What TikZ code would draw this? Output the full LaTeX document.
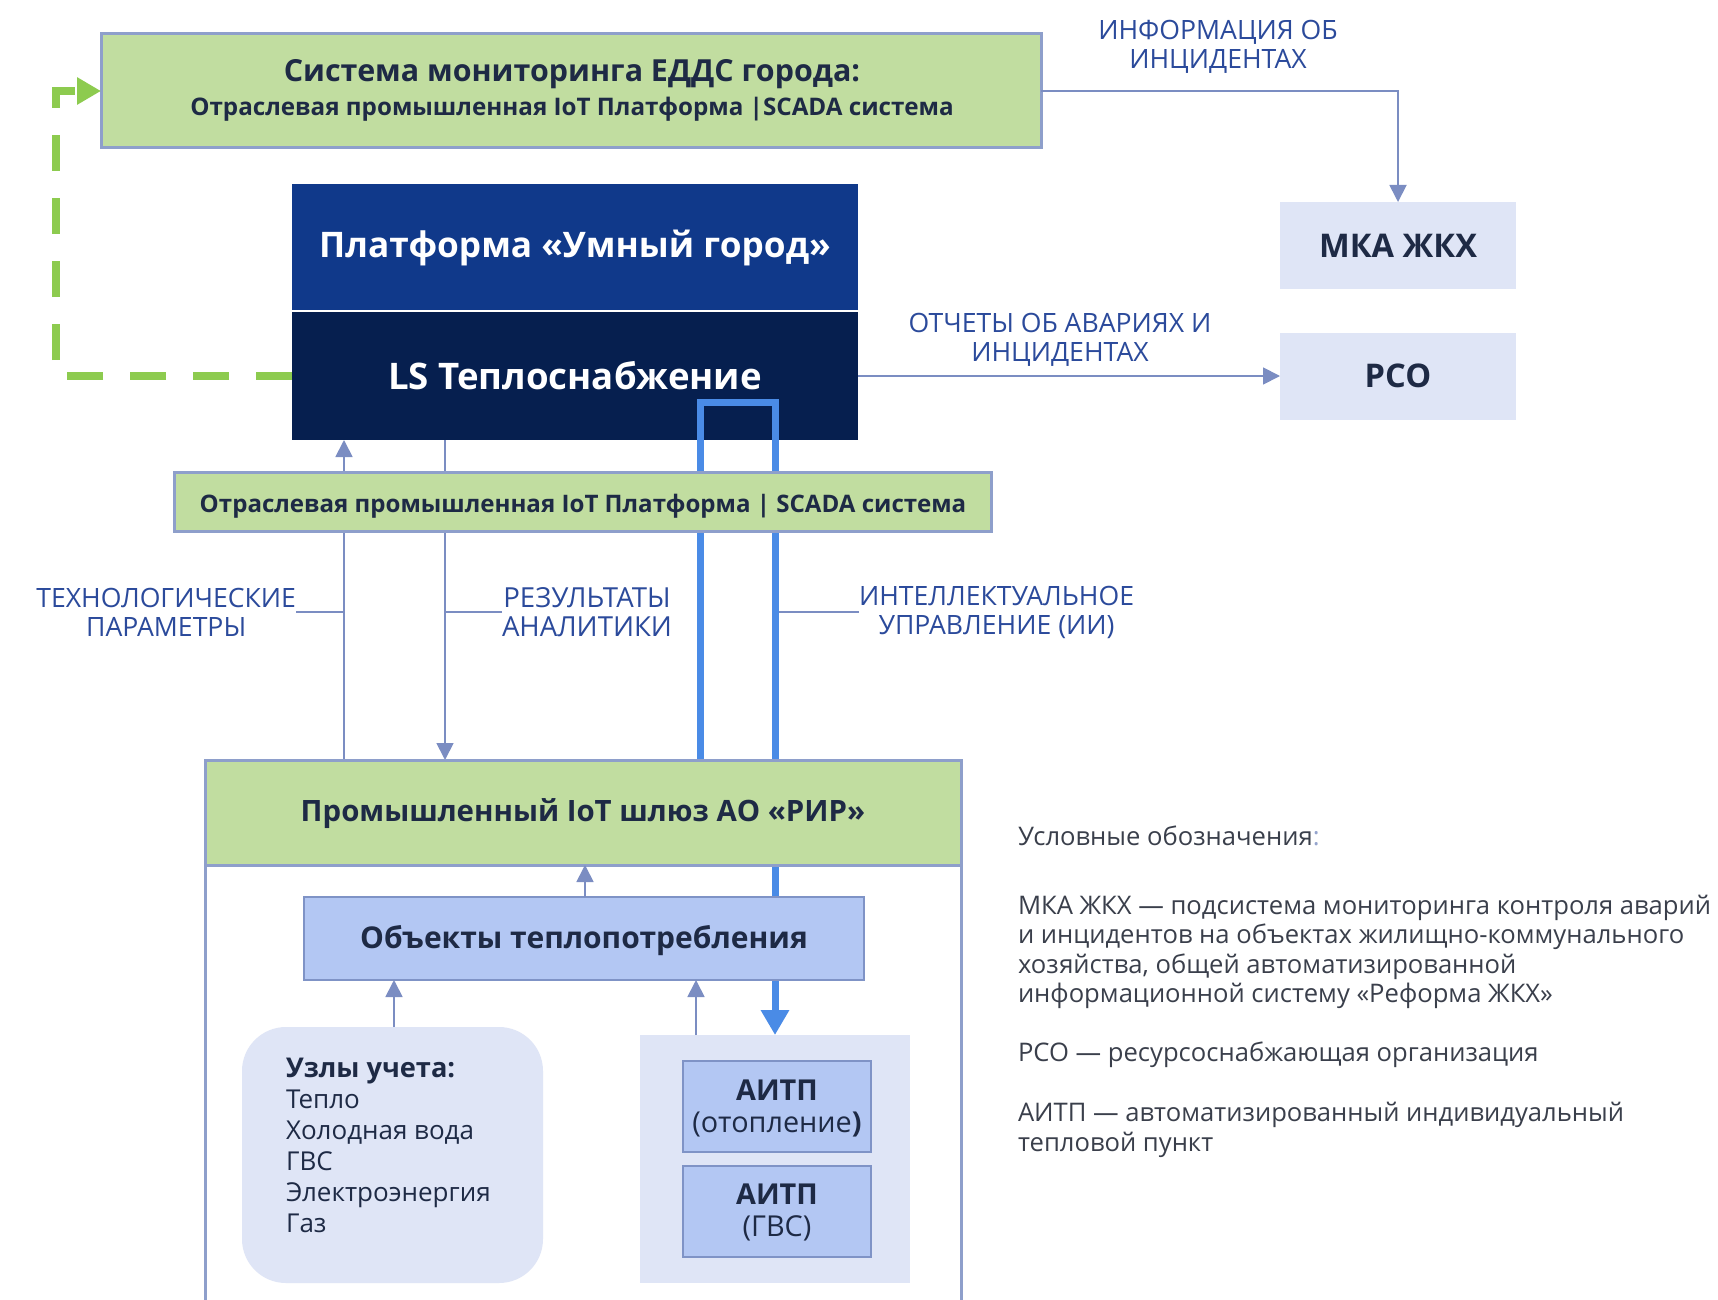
\documentclass[tikz,border=0pt]{standalone}
\usepackage{fontspec}
\setmainfont{Open Sans}
\usetikzlibrary{arrows.meta}
\definecolor{gfill}{HTML}{C1DDA0}
\definecolor{gdraw}{HTML}{8E9FCB}
\definecolor{txt}{HTML}{1E2A45}
\definecolor{lbl}{HTML}{2B4A9B}
\definecolor{thinc}{HTML}{7B8DC2}
\definecolor{bthick}{HTML}{4A8BE6}
\definecolor{platc}{HTML}{10398A}
\definecolor{lsc}{HTML}{061F4F}
\definecolor{lav}{HTML}{DFE5F6}
\definecolor{lblue}{HTML}{B3C7F3}
\definecolor{bdraw}{HTML}{7F93C6}
\definecolor{gdash}{HTML}{8DCB4F}
\definecolor{legt}{HTML}{3A3F4B}
\newcommand{\fs}[2]{\fontsize{#1}{#2}\selectfont}
\begin{document}
\begin{tikzpicture}[x=0.5pt,y=-0.5pt,
  every node/.style={inner sep=0pt, outer sep=0pt},
  gbox/.style={fill=gfill, draw=gdraw, line width=1.5pt},
  lbox/.style={fill=lblue, draw=bdraw, line width=1.2pt},
  lavbox/.style={fill=lav},
  thinarr/.style={draw=thinc, line width=0.9pt, -{Triangle[length=8.5pt,width=8.5pt]}},
  thinln/.style={draw=thinc, line width=0.9pt},
  bluearr/.style={draw=bthick, line width=3.5pt, line join=miter, -{Triangle[length=12.5pt,width=13.5pt]}},
  lbltxt/.style={text=lbl, font=\fs{13.3}{14.5}, align=center},
  btxt/.style={text=txt, font=\bfseries}]
\useasboundingbox (0,0) rectangle (1718,1300);

% outer container
\draw[gdraw, line width=1.5pt, fill=white] (205,760) rectangle (961,1340);

% top boxes
\node[gbox, minimum width=470pt, minimum height=57pt] (top) at (571,91) {};
\node[btxt, font=\bfseries\fs{15.2}{17}] (topt1) at (572,74) {Система мониторинга ЕДДС города:};
\node[btxt, font=\bfseries\fs{12.1}{14}] (topt2) at (572,109) {Отраслевая промышленная IoT Платформа |SCADA система};

\node[fill=platc, minimum width=283pt, minimum height=63pt] (plat) at (575,247) {};
\node[text=white, font=\bfseries\fs{17.6}{20}] at (575,248) {Платформа «Умный город»};
\node[fill=lsc, minimum width=283pt, minimum height=64pt] (ls) at (575,376) {};
\node[text=white, font=\bfseries\fs{18.3}{20}] at (575,376) {LS Теплоснабжение};

\node[lavbox, minimum width=118pt, minimum height=43.5pt] (mka) at (1398,245.5) {};
\node[btxt, font=\bfseries\fs{16.3}{18}] at (1398,246) {МКА ЖКХ};
\node[lavbox, minimum width=118pt, minimum height=43.5pt] (rso) at (1398,376) {};
\node[btxt, font=\bfseries\fs{16.3}{18}] at (1398,376) {РСО};

% connectors top
\draw[gdash, line width=4pt, dash pattern=on 18pt off 13.5pt, -{Triangle[length=12pt,width=13pt]}]
  (ls.west) -- (56,376) -- (56,91) -- (top.west);
\draw[thinarr] (top.east) -| (mka.north);
\node[lbltxt] (infolbl) at (1218,47) {ИНФОРМАЦИЯ ОБ\\ИНЦИДЕНТАХ};
\draw[thinarr] (ls.east) -- (rso.west);
\node[lbltxt] (replbl) at (1060,340) {ОТЧЕТЫ ОБ АВАРИЯХ И\\ИНЦИДЕНТАХ};

% thin vertical arrows
\coordinate (tp) at (344,760);
\coordinate (ra) at (445,440);
\draw[thinarr] (tp) -- (tp |- ls.south);
\draw[thinarr] (ra) -- (ra |- 0,760);

% labels with leaders
\node[lbltxt, anchor=east] (techl) at (296,612) {ТЕХНОЛОГИЧЕСКИЕ\\ПАРАМЕТРЫ};
\draw[thinln] (techl.east) -- (techl.east -| tp);
\node[lbltxt, anchor=west, font=\fs{13.8}{14.5}] (resl) at (502,612) {РЕЗУЛЬТАТЫ\\АНАЛИТИКИ};
\draw[thinln] (resl.west) -- (resl.west -| ra);
\node[lbltxt, anchor=west] (intl) at (859,612) {ИНТЕЛЛЕКТУАЛЬНОЕ\\УПРАВЛЕНИЕ (ИИ)};
\coordinate (b1) at (700,402);
\coordinate (b2) at (775,402);
\draw[thinln] (intl.west) -- (intl.west -| b2);

% lower boxes (behind arrows)
\node[lavbox, rounded corners=22pt, minimum width=150.5pt, minimum height=128pt] (uzly) at (392.5,1155) {};
\node[lavbox, minimum width=135pt, minimum height=124pt] (aitpc) at (775,1159) {};
\node[lbox, minimum width=94pt, minimum height=45.5pt] (a1) at (777,1106.5) {};
\node[lbox, minimum width=94pt, minimum height=45.5pt] (a2) at (777,1211.5) {};
\node[btxt, font=\bfseries\fs{14.4}{16}] at (777,1090) {АИТП};
\node[text=txt, font=\fs{14.4}{16}] at (777,1124) {(отопление\textbf{)}};
\node[btxt, font=\bfseries\fs{14.4}{16}] at (777,1194) {АИТП};
\node[text=txt, font=\fs{14.4}{16}] at (777,1228) {(ГВС)};
\node[text=txt, font=\fs{13}{15.5}, align=left, anchor=north west] at (286,1058)
  {\textbf{\fs{13.6}{15.5}Узлы учета:}\\Тепло\\Холодная вода\\ГВС\\Электроэнергия\\Газ};

% thick blue
\draw[bluearr] (b1 |- 0,760) -- (b1) -- (b2) -- (b2 |- aitpc.north);

% boxes on top
\node[gbox, minimum width=408.5pt, minimum height=29.5pt] (scada) at (582.5,501.5) {};
\node[btxt, font=\bfseries\fs{12.05}{13}] at (583,506) {Отраслевая промышленная IoT Платформа | SCADA система};
\node[gbox, minimum width=378pt, minimum height=52.5pt] (gw) at (583,812.5) {};
\node[btxt, font=\bfseries\fs{14.7}{16}] at (583,814) {Промышленный IoT шлюз АО «РИР»};
\node[lbox, minimum width=280pt, minimum height=41.5pt] (obj) at (584,938.5) {};
\node[btxt, font=\bfseries\fs{15}{16}] at (584,941) {Объекты теплопотребления};

\draw[thinarr] (obj.north -| 585,0) -- (gw.south -| 585,0);
\draw[thinarr] (uzly.north -| 394,0) -- (obj.south -| 394,0);
\draw[thinarr] (aitpc.north -| 696,0) -- (obj.south -| 696,0);

% legend
\node[text=legt, font=\fs{12.8}{14.75}, anchor=west] at (1018,836) {Условные обозначения{\color{lbl!50}:}};
\node[text=legt, font=\fs{12.8}{14.75}, align=left, anchor=west] at (1018,952) {МКА ЖКХ — подсистема мониторинга контроля аварий\\и инцидентов на объектах жилищно-коммунального\\хозяйства, общей автоматизированной\\информационной систему «Реформа ЖКХ»};
\node[text=legt, font=\fs{12.8}{14.75}, anchor=west] at (1018,1055) {РСО — ресурсоснабжающая организация};
\node[text=legt, font=\fs{12.8}{14.75}, align=left, anchor=west] at (1018,1130) {АИТП — автоматизированный индивидуальный\\тепловой пункт};
\end{tikzpicture}
\end{document}
